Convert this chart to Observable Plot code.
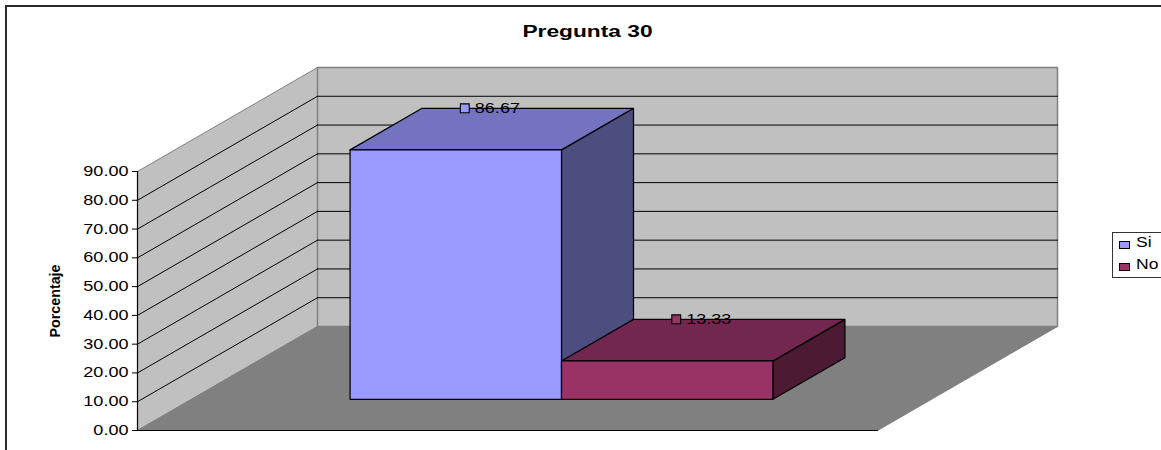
<!DOCTYPE html>
<html>
<head>
<meta charset="utf-8">
<script src="https://cdn.jsdelivr.net/npm/d3@7"></script>
<script src="https://cdn.jsdelivr.net/npm/@observablehq/plot@0.6"></script>
<style>
  html, body { margin: 0; padding: 0; width: 1161px; height: 450px; overflow: hidden; background: #fff; }
  #frame { position: absolute; left: 5px; top: 5px; width: 1300px; height: 600px; border: 2px solid #2a2a2a; }
  #chart { position: absolute; left: 0; top: 0; }
  #legend { position: absolute; left: 1112px; top: 232px; width: 80px; height: 44px; border: 1px solid #333; background: #fff;
            font-family: "Liberation Sans", Arial, sans-serif; font-size: 14px; color: #000; }
  .row { position: absolute; left: 0; height: 22px; line-height: 22px; white-space: nowrap; }
  .swatch { position: absolute; left: 6px; top: 8px; width: 9px; height: 6px; border: 1px solid #000; }
  .lab { position: absolute; left: 23px; top: -2px; transform: scaleX(1.25); transform-origin: left center; }
</style>
</head>
<body>
<div id="frame"></div>
<div id="chart"></div>
<div id="legend"></div>
<script>
const categories = ["Si", "No"];
const values = [86.67, 13.33];
const valueLabels = ["86.67", "13.33"];
const frontColors = ["#9999ff", "#993366"];
const topColors = ["#7373bf", "#732650"];
const sideColors = ["#4d4d80", "#4d1a33"];
const yTicks = [0, 10, 20, 30, 40, 50, 60, 70, 80, 90];
const title = "Pregunta 30";
const yLabel = "Porcentaje";

const W = 1161, H = 450;
const gapWidth = 1.5;
const band = 1 / (categories.length + gapWidth);
const depthX = 180 / 740, depthY = 104 / (259 / 90);
const d0 = 0.3, d1 = 0.7;

const P = (c, v, d) => ({x: c + d * depthX, y: v + d * depthY});
const face = (pts, fill, stroke = "#000", strokeWidth = 1.25) =>
  Plot.line([...pts, pts[0]].map(p => P(...p)), {x: "x", y: "y", fill, stroke, strokeWidth, strokeLinejoin: "miter"});
const seg = (a, b, stroke = "#000", strokeWidth = 1) =>
  Plot.line([P(...a), P(...b)], {x: "x", y: "y", stroke, strokeWidth});

const wallGrey = "#c0c0c0", floorGrey = "#808080", edge = "#808080";
const marks = [];
// walls and floor
marks.push(face([[0,0,0],[0,90,0],[0,90,1],[0,0,1]], wallGrey, edge, 1));
marks.push(face([[0,0,1],[0,90,1],[1,90,1],[1,0,1]], wallGrey, edge, 1.5));
marks.push(face([[0,0,0],[1,0,0],[1,0,1],[0,0,1]], floorGrey, floorGrey, 1));
// gridlines
for (const t of yTicks.slice(1, -1)) {
  marks.push(seg([0,t,0],[0,t,1]));
  marks.push(seg([0,t,1],[1,t,1]));
}
// bars
categories.forEach((cat, i) => {
  const c0 = band * (gapWidth / 2 + i), c1 = c0 + band, v = values[i];
  marks.push(face([[c1,0,d0],[c1,v,d0],[c1,v,d1],[c1,0,d1]], sideColors[i]));
  marks.push(face([[c0,v,d0],[c1,v,d0],[c1,v,d1],[c0,v,d1]], topColors[i]));
  marks.push(face([[c0,0,d0],[c1,0,d0],[c1,v,d0],[c0,v,d0]], frontColors[i]));
});
// front edges
marks.push(seg([0,0,0],[1,0,0], "#000", 1.2));
marks.push(seg([0,0,0],[0,90,0], "#000", 1.2));
// value axis
marks.push(Plot.axisY({
  ticks: yTicks, tickFormat: d3.format(".2f"), tickSize: 5, tickPadding: 4,
  label: yLabel, labelAnchor: "center", labelArrow: "none", labelOffset: 87,
  fontSize: 14, stroke: "#000", fill: "#000"
}));
// data labels
const labelData = categories.map((cat, i) => {
  const c = band * (gapWidth / 2 + i + 0.5), v = values[i];
  return {x: P(c, v, 0.5).x, y: P(c, v, d1).y, label: valueLabels[i], color: frontColors[i]};
});
marks.push(Plot.dot(labelData, {x: "x", y: "y", dx: -27, symbol: "square", r: 5, fill: "color", stroke: "#000", strokeWidth: 1.1}));
marks.push(Plot.text(labelData, {x: "x", y: "y", text: "label", dx: -17, textAnchor: "start", fontSize: 14, fill: "#000"}));
// title
marks.push(Plot.text([title], {frameAnchor: "top", dx: 587 - (137 + 877) / 2, dy: -146, fontSize: 16, fontWeight: "bold", fill: "#000", className: "ttl"}));

const svg = Plot.plot({
  width: W, height: H,
  marginLeft: 137, marginRight: W - 877, marginTop: 171, marginBottom: 20,
  style: {background: "transparent", fontFamily: "'Liberation Sans', Arial, sans-serif", overflow: "visible"},
  x: {domain: [0, 1], axis: null},
  y: {domain: [0, 90]},
  marks
});
document.getElementById("chart").appendChild(svg);

// The original is horizontally stretched: widen glyphs while keeping real text.
svg.querySelectorAll("text").forEach(t => {
  const ttl = t.closest(".ttl");
  const isLabel = t.textContent === yLabel;
  if (isLabel) { t.setAttribute("font-weight", "bold"); t.setAttribute("font-size", 14); }
  const f = ttl ? 1.42 : isLabel ? 1.02 : 1.29;
  t.setAttribute("textLength", t.getComputedTextLength() * f);
  t.setAttribute("lengthAdjust", "spacingAndGlyphs");
});

const legend = d3.select("#legend");
categories.forEach((cat, i) => {
  const r = legend.append("div").attr("class", "row").style("top", `${i * 22}px`);
  r.append("div").attr("class", "swatch").style("background", frontColors[i]);
  r.append("div").attr("class", "lab").text(cat);
});
</script>
</body>
</html>
